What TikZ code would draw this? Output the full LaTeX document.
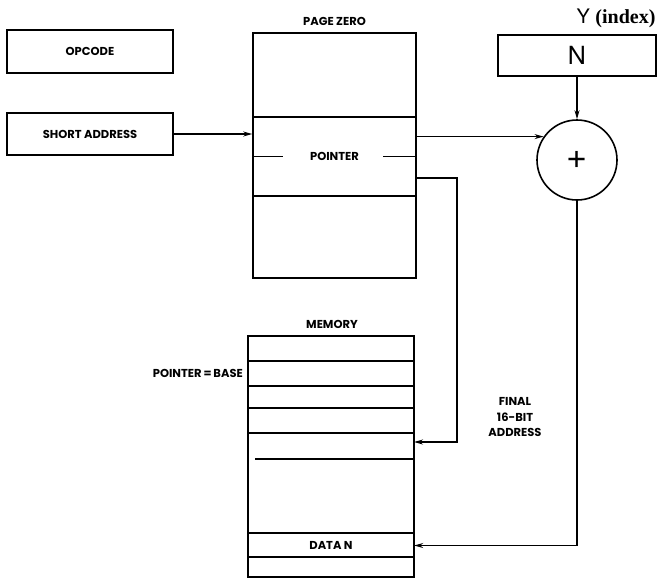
\documentclass[tikz,border=0pt]{standalone}
\usepackage{fontspec}
\setsansfont{Poppins}
\newfontfamily\helv{TeX Gyre Heros}
\newfontfamily\timesf{Liberation Serif}
\usetikzlibrary{arrows.meta}

\begin{document}
\begin{tikzpicture}[x=1pt, y=-1pt,
  wall/.style={line width=1.6pt},
  box/.style={draw, line width=1.6pt, inner sep=0pt, font=\sffamily\bfseries\fontsize{11.5}{13}\selectfont},
  row/.style={inner sep=0pt, font=\sffamily\bfseries\fontsize{11.5}{13}\selectfont},
  lbl/.style={inner sep=0pt, font=\sffamily\bfseries\fontsize{11.5}{15.5}\selectfont},
  link/.style={line width=1.2pt, -{Stealth[length=9pt,width=5pt]}}]
  \fill[white] (0,0) rectangle (660,582);
  \useasboundingbox (0,0) rectangle (660,582);

  % instruction
  \node[box, minimum width=166pt, minimum height=43pt] (opcode) at (90,51.5) {OPCODE};
  \node[box, minimum width=166pt, minimum height=42pt] (short) at (90,134) {SHORT ADDRESS};

  % page zero
  \node[lbl] (pagelbl) at (334.5,21) {PAGE ZERO};
  \node[box, minimum width=163pt, minimum height=245pt] (page) at (334.5,155.5) {};
  \node[row, minimum width=163pt, minimum height=79pt] (ptr) at (334.5,156.5) {POINTER};
  \draw[wall] (ptr.north west) -- (ptr.north east) (ptr.south west) -- (ptr.south east);
  \draw[wall] (ptr.west) -- ++(30,0) (ptr.east) -- ++(-33,0);

  % index register and adder
  \node[inner sep=0pt, font=\fontsize{20}{22}\selectfont] (indexlbl) at (616,18) {\helv Y \timesf\bfseries (index)};
  \node[draw, line width=1.6pt, minimum width=158pt, minimum height=41pt, inner sep=0pt, font=\helv\fontsize{25}{27}\selectfont] (index) at (577,55.5) {N};
  \node[draw, circle, line width=1.6pt, minimum size=80pt, inner sep=0pt, font=\helv\fontsize{36}{36}\selectfont] (sum) at (577,160) {+};

  % memory
  \node[lbl] (memlbl) at (332,324) {MEMORY};
  \node[box, minimum width=166pt, minimum height=241pt] (mem) at (331,456.5) {};
  \foreach \y in {361,386,408,433,533,557}
    \draw[wall] (mem.west |- 0,\y) -- (mem.east |- 0,\y);
  \draw[wall] (255,459) -- (mem.east |- 0,459);
  \node[row, minimum width=166pt, minimum height=24pt] (data) at (331,545.5) {DATA N};
  \coordinate (slot) at (414,442);
  \node[lbl, anchor=east] (base) at (243,373) {POINTER\,=\,BASE};
  \node[lbl, align=center] (final) at (515,417) {FINAL\\16-BIT\\ADDRESS};

  % connectors
  \coordinate (bend) at (457,178);
  \draw[link] (short.east) -- (short.east -| page.west);
  \draw[link] (page.east |- sum.145) -- (sum.145);
  \draw[link] (index.south) -- (sum.north);
  \draw[link] (ptr.east |- bend) -- (bend) |- (slot);
  \draw[link] (sum.south) |- (data.east);
\end{tikzpicture}
\end{document}
